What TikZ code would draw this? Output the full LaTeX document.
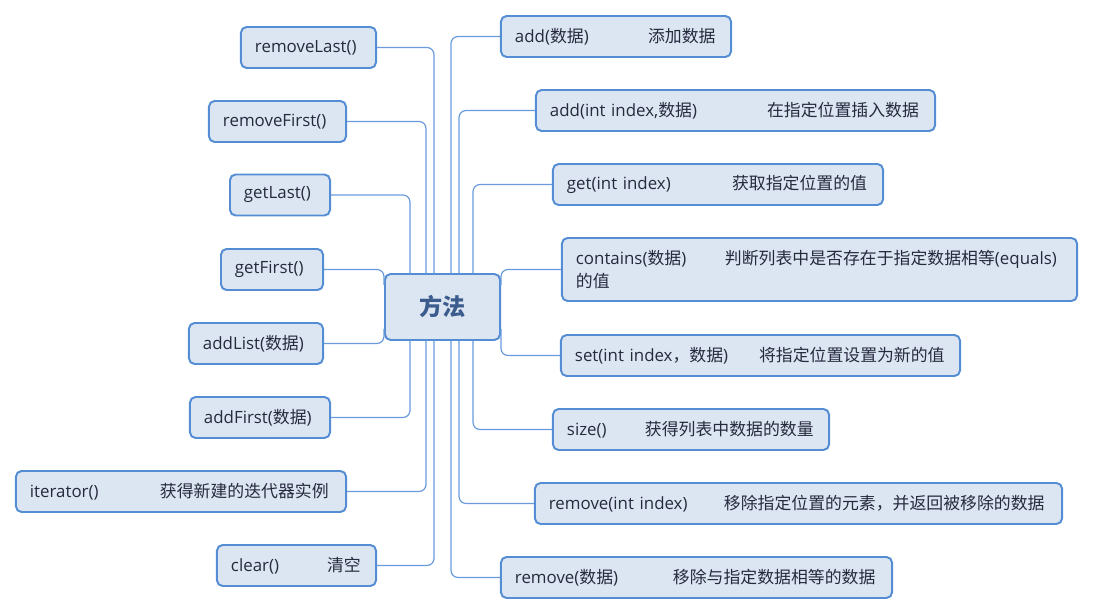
\documentclass[tikz,border=0pt]{standalone}
\usepackage{fontspec}
\setmainfont{Open Sans}
\newfontfamily\cjk{Noto Sans CJK SC}
\usetikzlibrary{calc}
\definecolor{boxfill}{RGB}{220,230,242}
\definecolor{boxline}{RGB}{84,141,212}
\definecolor{linkline}{RGB}{105,155,220}
\definecolor{ink}{RGB}{38,42,62}
\definecolor{rootink}{RGB}{60,92,142}
\newcommand{\zh}[1]{{\cjk #1}}
\newcommand{\mth}[2]{\makebox[#1][l]{#2}}

\begin{document}
\begin{tikzpicture}[x=0.025cm, y=-0.025cm,
  m/.style={draw=boxline, fill=boxfill, rounded corners=4pt, line width=1.4pt, text=ink, font=\fontsize{12}{16.4}\selectfont, minimum height=1.025cm, inner xsep=0.35cm, inner ysep=0pt, align=left},
  root/.style={m, minimum width=2.875cm, minimum height=1.65cm, text=rootink, font=\fontsize{16.5}{20}\selectfont\bfseries, align=center},
  link/.style={draw=linkline, line width=0.85pt, rounded corners=5pt}]
\useasboundingbox (0,0) rectangle (1094,615);
\node[root] (root) at (442.5,307) {\zh{方法}};
% left branch
\node[m, text width=2.675cm] (rl) at (308.5,47.5) {removeLast()};
\node[m, text width=2.725cm] (rf) at (277.5,121.5) {removeFirst()};
\node[m, text width=1.8cm] (gl) at (280,195) {getLast()};
\node[m, text width=1.85cm] (gf) at (272,269.5) {getFirst()};
\node[m, text width=2.65cm] (al) at (256,343.5) {addList(\zh{数据})};
\node[m, text width=2.8cm] (af) at (260,417.5) {addFirst(\zh{数据})};
\node[m, text width=7.55cm] (it) at (181,491.5) {\mth{3.25cm}{iterator()}\zh{获得新建的迭代器实例}};
\node[m, text width=3.275cm] (cl) at (296.5,565.5) {\mth{2.4cm}{clear()}\zh{清空}};
% right branch
\node[m, text width=5.05cm] (ad) at (616,36.5) {\mth{3.325cm}{add(\zh{数据})}\zh{添加数据}};
\node[m, text width=9.275cm] (ai) at (735.5,110.5) {\mth{5.425cm}{add(int index,\zh{数据})}\zh{在指定位置插入数据}};
\node[m, text width=7.55cm] (gi) at (718,184.5) {\mth{4.125cm}{get(int index)}\zh{获取指定位置的值}};
\node[m, text width=12.175cm, minimum height=1.575cm] (ct) at (819.5,269.5) {\mth{3.725cm}{contains(\zh{数据})}\zh{判断列表中是否存在于指定数据相等}(equals)\\\zh{的值}};
\node[m, text width=9.275cm] (st) at (760.5,355.5) {\mth{4.6cm}{set(int index\zh{，数据})}\zh{将指定位置设置为新的值}};
\node[m, text width=6.2cm] (sz) at (691,429.5) {\mth{1.95cm}{size()}\zh{获得列表中数据的数量}};
\node[m, text width=12.475cm] (ri) at (798.5,503.5) {\mth{4.375cm}{remove(int index)}\zh{移除指定位置的元素，并返回被移除的数据}};
\node[m, text width=9.075cm] (rd) at (696.5,577.5) {\mth{3.95cm}{remove(\zh{数据})}\zh{移除与指定数据相等的数据}};
% connectors
\draw[link] (rl.east) -| ($(root.north)+(-8.5,0)$);
\draw[link] (rf.east) -| ($(root.north)+(-16.5,0)$);
\draw[link] (gl.east) -| ($(root.north)+(-32.5,0)$);
\draw[link] (gf.east) -| ($(root.west)+(0,-22)$);
\draw[link] (al.east) -| ($(root.west)+(0,22)$);
\draw[link] (af.east) -| ($(root.south)+(-32.5,0)$);
\draw[link] (it.east) -| ($(root.south)+(-16.5,0)$);
\draw[link] (cl.east) -| ($(root.south)+(-8.5,0)$);
\draw[link] (ad.west) -| ($(root.north)+(8.5,0)$);
\draw[link] (ai.west) -| ($(root.north)+(16.5,0)$);
\draw[link] (gi.west) -| ($(root.north)+(30.5,0)$);
\draw[link] (ct.west) -| ($(root.east)+(0,-22)$);
\draw[link] (st.west) -| ($(root.east)+(0,22)$);
\draw[link] (sz.west) -| ($(root.south)+(30.5,0)$);
\draw[link] (ri.west) -| ($(root.south)+(16.5,0)$);
\draw[link] (rd.west) -| ($(root.south)+(8.5,0)$);
\end{tikzpicture}
\end{document}
